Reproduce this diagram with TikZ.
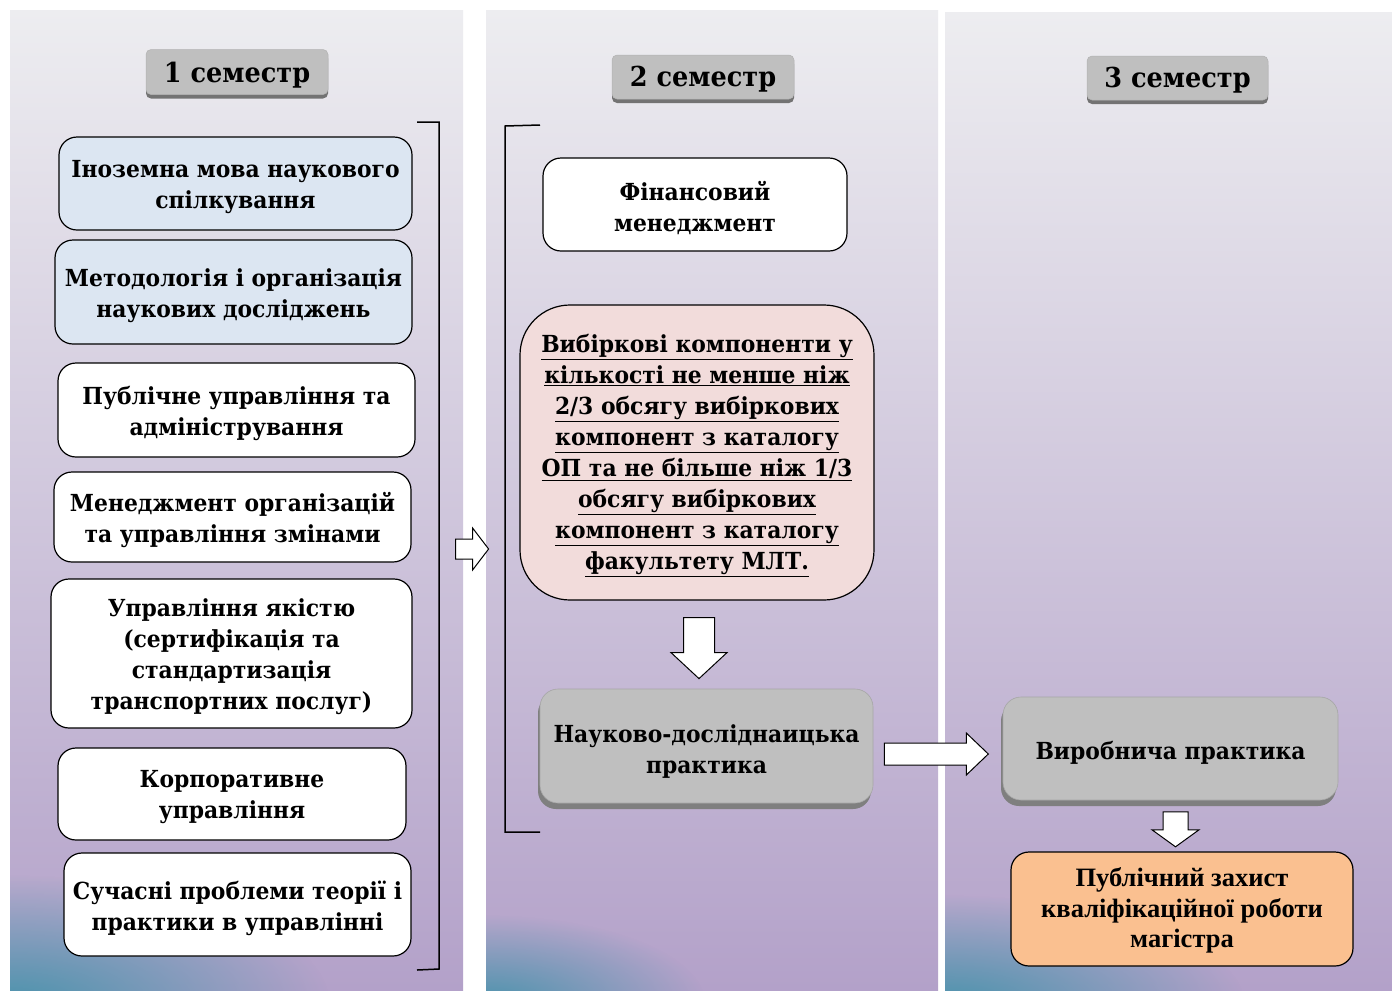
\documentclass[tikz,border=0pt]{standalone}
\usepackage{fontspec}
\setmainfont{DejaVu Serif}[FakeStretch=0.93]
\newfontfamily\timesfont{Liberation Serif}
\usetikzlibrary{calc,fadings,shadows}
\definecolor{bgtop}{HTML}{EDEDF0}
\definecolor{bgmid}{HTML}{CFC5DB}
\definecolor{bgbot}{HTML}{B3A1C9}
\definecolor{tealc}{HTML}{4A93AC}
\definecolor{lblue}{HTML}{DCE6F2}
\definecolor{lpink}{HTML}{F2DCDB}
\definecolor{lorange}{HTML}{FAC090}
\definecolor{gbox}{HTML}{BFBFBF}
\definecolor{gshadow}{HTML}{7F7F7F}
\tikzfading[name=cornerfade, inner color=transparent!0, outer color=transparent!100]
\tikzset{
  panel/.style={top color=bgtop, middle color=bgmid, bottom color=bgbot},
  txt/.style={font=\bfseries\fontsize{23.5}{31}\selectfont, align=center, text=black, inner sep=0pt},
  wbox/.style={draw=black, line width=1.2pt, rounded corners=18pt, fill=white, inner sep=0pt},
  graybox/.style={draw=gray!70, line width=0.6pt, rounded corners=18pt, fill=gbox, inner sep=0pt,
    drop shadow={shadow xshift=-2pt, shadow yshift=-6pt, fill=gshadow, opacity=1}},
  header/.style={fill=gbox, rounded corners=5pt,
    draw=gray!60, line width=0.5pt, inner sep=0pt,
    drop shadow={shadow xshift=0pt, shadow yshift=-4pt, fill=gray!90!black, opacity=1}},
  hlabel/.style={font=\bfseries\fontsize{27.5}{34}\selectfont, text=black, inner sep=0pt},
  barrow/.style={draw=black, line width=1pt, fill=white, line join=miter},
  brace/.style={draw=black, line width=1.5pt},
}
\begin{document}
\begin{tikzpicture}[x=1pt,y=-1pt]
\useasboundingbox (0,0) rectangle (1392,991);
\fill[white] (0,0) rectangle (1392,991);
% panels
\shade[panel] (10,10) rectangle (463,990);
\shade[panel] (486,10) rectangle (938,990);
\shade[panel] (945,12) rectangle (1392,990);
\begin{scope}
  \clip (10,10) rectangle (463,990);
  \fill[tealc, path fading=cornerfade] (10,1005) ellipse [x radius=320, y radius=130];
\end{scope}
\begin{scope}
  \clip (486,10) rectangle (938,990);
  \fill[tealc, path fading=cornerfade] (486,1005) ellipse [x radius=220, y radius=90];
\end{scope}
\begin{scope}
  \clip (945,12) rectangle (1392,990);
  \fill[tealc, path fading=cornerfade] (945,1005) ellipse [x radius=300, y radius=110];
\end{scope}

% headers
\node[header, minimum width=182, minimum height=45,
  label={[hlabel, yshift=-3pt]center:1 семестр}] (h1) at (237,72) {};
\node[header, minimum width=182, minimum height=44,
  label={[hlabel, yshift=-2pt]center:2 семестр}] (h2) at (703,77) {};
\node[header, minimum width=181, minimum height=44,
  label={[hlabel, yshift=-2pt]center:3 семестр}] (h3) at (1177.5,78) {};

% semester 1
\node[wbox, fill=lblue, minimum width=353, minimum height=93,
  label={[txt, yshift=-3.5pt]center:{Іноземна мова наукового\\спілкування}}] (b1) at (235.5,183.5) {};
\node[wbox, fill=lblue, minimum width=357, minimum height=104,
  label={[txt, yshift=-3.5pt]center:{Методологія і організація\\наукових досліджень}}] (b2) at (233.5,292) {};
\node[wbox, minimum width=357, minimum height=94,
  label={[txt, yshift=-3.5pt]center:{Публічне управління та\\адміністрування}}] (b3) at (236.5,410) {};
\node[wbox, minimum width=357, minimum height=90,
  label={[txt, yshift=-3.5pt]center:{Менеджмент організацій\\та управління змінами}}] (b4) at (232.5,517) {};
\node[wbox, minimum width=361, minimum height=149,
  label={[txt, yshift=-3.5pt]center:{Управління якістю\\(сертифікація та\\стандартизація\\транспортних послуг)}}] (b5) at (231.5,653.5) {};
\node[wbox, minimum width=348, minimum height=92,
  label={[txt, yshift=-3.5pt]center:{Корпоративне\\управління}}] (b6) at (232,794) {};
\node[wbox, minimum width=347, minimum height=103,
  label={[txt, yshift=-3.5pt]center:{Сучасні проблеми теорії і\\практики в управлінні}}] (b7) at (237.5,904.5) {};
\draw[brace] (417,122) -- (439,122) -- (439,969) -- (417,970);

% semester 2
\node[wbox, minimum width=304, minimum height=93,
  label={[txt, yshift=-3.5pt]center:{Фінансовий\\менеджмент}}] (fin) at (695,204.5) {};
\node[wbox, fill=lpink, rounded corners=50pt, minimum width=354, minimum height=295,
  label={[txt, yshift=-3pt]center:{\underline{Вибіркові компоненти у}\\\underline{кількості не менше ніж}\\\underline{2/3 обсягу вибіркових}\\\underline{компонент з каталогу}\\\underline{ОП та не більше ніж 1/3}\\\underline{обсягу вибіркових}\\\underline{компонент з каталогу}\\\underline{факультету МЛТ.}}}] (vib) at (697,452.5) {};
\node[graybox, minimum width=333, minimum height=114,
  label={[txt, yshift=-6pt]center:{Науково-досліднаицька\\практика}}] (nauk) at (706.5,746) {};
\draw[brace] (540,125) -- (505,126) -- (505,832) -- (540,832);

% semester 3
\node[graybox, minimum width=335, minimum height=103,
  label={[txt, yshift=-4.5pt]center:{Виробнича практика}}] (vyr) at (1170.5,748.5) {};
\node[wbox, fill=lorange, minimum width=342, minimum height=114,
  label={[txt, font=\timesfont\bfseries\fontsize{26.5}{30.5}\selectfont, yshift=-1.5pt]center:{Публічний захист\\кваліфікаційної роботи\\магістра}}] (pub) at (1182,909) {};

% block arrows
\coordinate (a0) at ($(b4.east)+(44,22)$);
\draw[barrow] (a0) -- ++(17,0) -- ++(0,-11) -- ++(16,21) -- ++(-16,21) -- ++(0,-11) -- ++(-17,0) -- cycle;
\coordinate (a1) at ($(vib.south)+(-13.5,17)$);
\draw[barrow] (a1) -- ++(31,0) -- ++(0,35) -- ++(12.5,0) -- ++(-28,26) -- ++(-28,-26) -- ++(12.5,0) -- cycle;
\coordinate (a2) at ($(nauk.east)+(11,-3)$);
\draw[barrow] (a2) -- ++(82,0) -- ++(0,-10) -- ++(22,21) -- ++(-22,21) -- ++(0,-10) -- ++(-82,0) -- cycle;
\coordinate (a3) at ($(vyr.south)+(-7.5,11.5)$);
\draw[barrow] (a3) -- ++(25,0) -- ++(0,18) -- ++(11,0) -- ++(-23.5,17) -- ++(-23.5,-17) -- ++(11,0) -- cycle;
\end{tikzpicture}
\end{document}
